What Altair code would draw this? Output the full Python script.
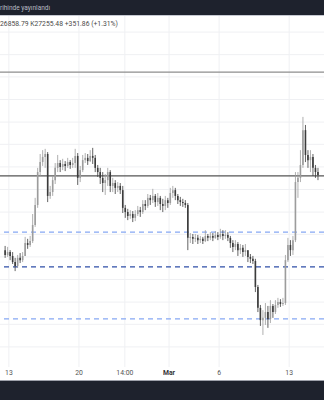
import altair as alt
import pandas as pd

# ---------------- data ----------------
first_open = 22150
close = [22000, 22090, 21970, 21780, 21660, 21910, 21840, 21970, 22370, 22310,
         22430, 22930, 23550, 24570, 24880, 25040, 25130, 23830, 23950, 24320,
         24700, 24850, 24730, 24820, 24760, 24880, 24790, 24850, 25070, 24390,
         24630, 24940, 25010, 24910, 25070, 25010, 24700, 24570, 24390, 24230,
         24320, 24570, 24140, 24230, 24080, 24140, 24010, 23460, 23330, 23210,
         23270, 23150, 23270, 23390, 23330, 23580, 23520, 23770, 23700, 23830,
         23640, 23770, 23580, 23520, 23700, 23610, 23920, 24010, 23830, 23700,
         23640, 23610, 23550, 22530, 22560, 22500, 22530, 22460, 22500, 22430,
         22590, 22530, 22590, 22530, 22620, 22560, 22650, 22590, 22620, 22530,
         22370, 22250, 22340, 22150, 22220, 22090, 22150, 21940, 21880, 21810,
         21010, 20360, 19980, 20050, 20230, 20010, 20420, 20230, 20450, 20540,
         20480, 20510, 21840, 22310, 22150, 22460, 24260, 24390, 24790, 25870,
         25100, 24940, 25040, 24700, 24570, 24480]
high = [22280, 22250, 22150, 22090, 21910, 22000, 22060, 22090, 22560, 22500,
        22590, 23270, 23770, 24700, 25130, 25250, 25290, 25190, 24140, 24450,
        24850, 25100, 24940, 24980, 24910, 25010, 24940, 25010, 25290, 25160,
        24760, 25100, 25160, 25130, 25250, 25320, 25100, 24790, 24700, 24570,
        24510, 24700, 24630, 24390, 24320, 24260, 24230, 24140, 23550, 23430,
        23390, 23360, 23390, 23520, 23490, 23700, 23700, 23890, 23860, 24050,
        23890, 23920, 23830, 23740, 23830, 23770, 24080, 24140, 24080, 23890,
        23800, 23740, 23700, 23610, 22680, 22650, 22650, 22620, 22590, 22560,
        22770, 22650, 22710, 22680, 22740, 22710, 22810, 22770, 22770, 22710,
        22590, 22460, 22460, 22400, 22340, 22310, 22340, 22150, 22030, 21970,
        21880, 21070, 20450, 20290, 20510, 20420, 20600, 20480, 20600, 20670,
        20630, 20670, 22000, 22530, 22460, 22590, 24570, 24570, 25250, 26280,
        26030, 25250, 25250, 25130, 24790, 24700]
low = [21910, 21940, 21840, 21720, 21500, 21600, 21750, 21780, 21970, 22190,
       22250, 22370, 22870, 23460, 24450, 24760, 24700, 23640, 23740, 23830,
       24200, 24570, 24570, 24630, 24600, 24700, 24670, 24700, 24700, 24170,
       24260, 24570, 24850, 24790, 24880, 24820, 24570, 24420, 24200, 23950,
       23860, 24140, 23950, 23950, 23890, 23950, 23890, 23300, 23150, 23080,
       23120, 23020, 23050, 23210, 23180, 23270, 23390, 23460, 23550, 23610,
       23490, 23520, 23390, 23330, 23390, 23460, 23550, 23770, 23700, 23580,
       23520, 23490, 23460, 22150, 22370, 22340, 22400, 22340, 22370, 22340,
       22400, 22430, 22460, 22430, 22500, 22460, 22500, 22460, 22500, 22430,
       22220, 22090, 22150, 21970, 22030, 21940, 21970, 21780, 21750, 21720,
       20850, 20230, 19800, 19520, 19830, 19740, 19890, 20050, 20170, 20360,
       20390, 20420, 20450, 21780, 21970, 22000, 22400, 23770, 24260, 24700,
       24880, 24700, 24570, 24450, 24390, 24320]

tick_days = [0, 7, 11.583, 16, 21, 28]
tick_labels = ["13", "20", "14:00", "Mar", "6", "13"]
tick_bold = [False, False, False, True, False, False]

grid_levels = [28910, 28210, 27520, 26820, 26120, 25430, 24730, 24030,
               23330, 22640, 21940, 21240, 20540, 19850, 19150]
solid_levels = [27670, 24450]
solid_colors = ["#8e8e8e", "#555555"]
dashed_levels = [22710, 21630, 20020]
dashed_colors = ["#86a8f4", "#2f4fa8", "#86a8f4"]

header_title = "rihinde yayınlandı"
header_values = "26858.79  K27255.48  +351.86 (+1.31%)"

# ---------------- tables ----------------
opens = [first_open] + close[:-1]
n = len(close)
candles = pd.DataFrame({
    "day": [-0.375 + 0.25 * i for i in range(n)],
    "open": opens,
    "close": close,
    "high": [max(h, o, c) for h, o, c in zip(high, opens, close)],
    "low": [min(l, o, c) for l, o, c in zip(low, opens, close)],
})
candles["up"] = candles["close"] >= candles["open"]

ticks = pd.DataFrame({"day": tick_days, "label": tick_labels, "bold": tick_bold})
grid = pd.DataFrame({"level": grid_levels})
solid = pd.DataFrame({"level": solid_levels, "c": solid_colors})
dashed = pd.DataFrame({"level": dashed_levels, "c": dashed_colors})
one = pd.DataFrame({"k": [0]})

xs = alt.Scale(domain=[-0.387, 30.978], nice=False, zero=False)
ys = alt.Scale(domain=[17504, 29904], nice=False, zero=False)

UP = "#9c9c9c"
DOWN = "#3b3b3b"
FONT = "Roboto"

hgrid = alt.Chart(grid).mark_rule(color="#eff0f3", strokeWidth=1).encode(
    y=alt.Y("level:Q", scale=ys, axis=None))
vgrid = alt.Chart(ticks).mark_rule(color="#eff0f3", strokeWidth=1).encode(
    x=alt.X("day:Q", scale=xs, axis=None), y=alt.value(16), y2=alt.value(367))

solid_l = alt.Chart(solid).mark_rule(strokeWidth=1.2).encode(
    y=alt.Y("level:Q", scale=ys, axis=None), color=alt.Color("c:N", scale=None))
dashed_l = alt.Chart(dashed).mark_rule(strokeWidth=1.3, strokeDash=[5, 4]).encode(
    y=alt.Y("level:Q", scale=ys, axis=None), color=alt.Color("c:N", scale=None))

cond = alt.condition("datum.up", alt.value(UP), alt.value(DOWN))
wicks = alt.Chart(candles).mark_rule(strokeWidth=0.8).encode(
    x=alt.X("day:Q", scale=xs, axis=None),
    y=alt.Y("low:Q", scale=ys, axis=None), y2="high:Q", color=cond)
bodies = alt.Chart(candles).mark_bar(size=1.6).encode(
    x=alt.X("day:Q", scale=xs, axis=None),
    y=alt.Y("open:Q", scale=ys, axis=None), y2="close:Q", color=cond)

header = alt.Chart(one).mark_rect(color="#1e222d").encode(
    x=alt.value(0), x2=alt.value(324), y=alt.value(0), y2=alt.value(15))
header_sep = alt.Chart(one).mark_rule(color="#c6c9d2", strokeWidth=1).encode(
    x=alt.value(0), x2=alt.value(324), y=alt.value(15.5))
header_t1 = alt.Chart(one).mark_text(
    text=header_title, align="left", baseline="middle", font=FONT,
    fontSize=6.5, color="#b8bbc4").encode(x=alt.value(0), y=alt.value(8))
header_t2 = alt.Chart(one).mark_text(
    text=header_values, align="left", baseline="middle", font=FONT,
    fontSize=6.8, color="#4a4a4a").encode(x=alt.value(0), y=alt.value(24))

labels_n = alt.Chart(ticks).transform_filter("!datum.bold").mark_text(
    baseline="middle", font=FONT, fontSize=6.8, color="#555555").encode(
    x=alt.X("day:Q", scale=xs, axis=None), y=alt.value(373), text="label:N")
labels_b = alt.Chart(ticks).transform_filter("datum.bold").mark_text(
    baseline="middle", font=FONT, fontSize=6.8, fontWeight="bold",
    color="#333333").encode(
    x=alt.X("day:Q", scale=xs, axis=None), y=alt.value(373), text="label:N")

footer = alt.Chart(one).mark_rect(color="#1e222d").encode(
    x=alt.value(0), x2=alt.value(324), y=alt.value(380), y2=alt.value(400))
footer_sep = alt.Chart(one).mark_rule(color="#9ea1aa", strokeWidth=1).encode(
    x=alt.value(0), x2=alt.value(324), y=alt.value(380.5))

chart = alt.layer(
    hgrid, vgrid, solid_l, dashed_l, wicks, bodies,
    header, header_sep, header_t1, header_t2,
    labels_n, labels_b, footer, footer_sep,
).properties(
    width=324, height=400,
    autosize=alt.AutoSizeParams(type="none"),
    padding=0, background="white",
).configure_view(stroke=None)

chart.save("out.html", embed_options={"renderer": "svg", "actions": False})
